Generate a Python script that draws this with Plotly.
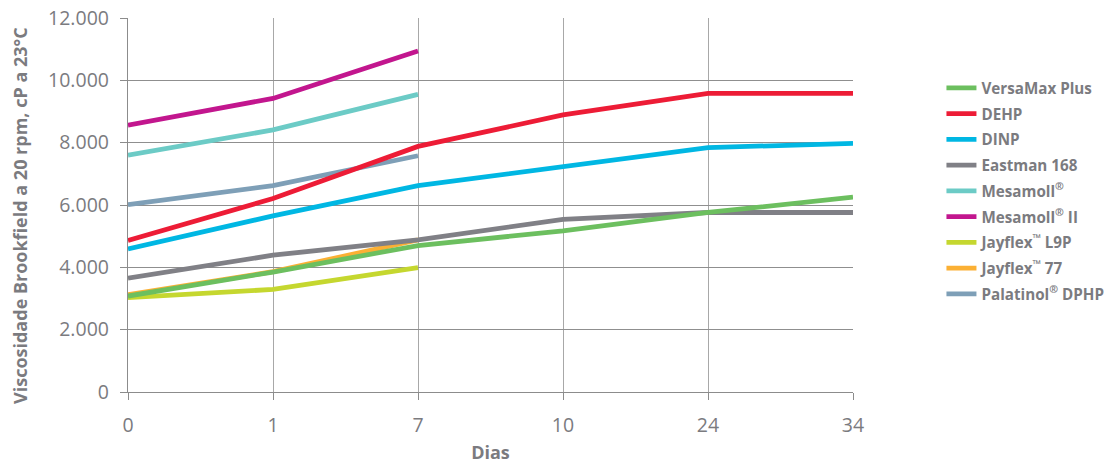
import plotly.graph_objects as go

days = ["0", "1", "7", "10", "24", "34"]

versamax_plus = [3080, 3850, 4700, 5170, 5760, 6250]
dehp = [4860, 6210, 7880, 8890, 9580, 9580]
dinp = [4590, 5650, 6620, 7220, 7840, 7980]
eastman_168 = [3650, 4390, 4880, 5540, 5760, 5760]
mesamoll = [7600, 8410, 9550]
mesamoll_ii = [8560, 9420, 10940]
jayflex_l9p = [3030, 3290, 3990]
jayflex_77 = [3120, 3860, 4880]
palatinol_dphp = [6010, 6620, 7580]

series_names = ["VersaMax Plus", "DEHP", "DINP", "Eastman 168", "Mesamoll<sup>®</sup>",
                "Mesamoll<sup>®</sup> II", "Jayflex<sup>™</sup> L9P", "Jayflex<sup>™</sup> 77",
                "Palatinol<sup>®</sup> DPHP"]
series_values = [versamax_plus, dehp, dinp, eastman_168, mesamoll, mesamoll_ii,
                 jayflex_l9p, jayflex_77, palatinol_dphp]
colors = ["#6cbf5f", "#ed1c36", "#00b7e3", "#808086", "#6ccbc6", "#c2168e",
          "#c5d72f", "#fbb034", "#7e9fb7"]

y_tickvals = [0, 2000, 4000, 6000, 8000, 10000, 12000]
y_ticktext = ["0", "2.000", "4.000", "6.000", "8.000", "10.000", "12.000"]
y_title = "Viscosidade Brookfield a 20 rpm, cP a 23°C"
x_title = "Dias"

fig = go.Figure()
items = list(enumerate(zip(series_names, series_values, colors)))
for rank, (name, vals, col) in reversed(items):
    fig.add_trace(go.Scatter(
        x=days[:len(vals)], y=vals, name=name, mode="lines",
        line=dict(color=col, width=4.8), legendgroup=name, legendrank=rank + 1,
    ))

gray_text = "#7b7b7f"
fig.update_layout(
    width=1112, height=464,
    margin=dict(l=128, r=259, t=18, b=72, autoexpand=False),
    paper_bgcolor="white", plot_bgcolor="white",
    font=dict(family="Open Sans", color=gray_text, size=18),
    showlegend=True,
    legend=dict(
        x=1.122, y=0.857, xanchor="left", yanchor="top",
        traceorder="grouped", tracegroupgap=3,
        font=dict(size=15.2, color=gray_text, family="Open Sans", weight="bold"),
        itemwidth=30, bgcolor="rgba(0,0,0,0)",
    ),
    xaxis=dict(
        type="category", categoryorder="array", categoryarray=days,
        range=[0, 5], showgrid=True, gridcolor="#a8a8a8", gridwidth=1.3,
        showline=True, linecolor="#8c8c8c", linewidth=1.3,
        ticks="outside", ticklen=7, tickcolor="#8c8c8c", tickwidth=1.3,
        tickfont=dict(size=19.5, color=gray_text), ticklabelstandoff=8,
        title=dict(text="<b>" + x_title + "</b>", font=dict(size=18, color=gray_text), standoff=10),
        zeroline=False, fixedrange=True, automargin=False,
    ),
    yaxis=dict(
        range=[0, 12000], tickvals=y_tickvals, ticktext=y_ticktext,
        showgrid=True, gridcolor="#8f8f8f", gridwidth=1.3,
        showline=True, linecolor="#8c8c8c", linewidth=1.3,
        ticks="outside", ticklen=7, tickcolor="#8c8c8c", tickwidth=1.3,
        tickfont=dict(size=19.5, color=gray_text), ticklabelstandoff=7,
        ticklabeloverflow="allow",
        zeroline=False, fixedrange=True, automargin=False,
    ),
    annotations=[dict(
        text="<b>" + y_title + "</b>", textangle=-90, showarrow=False,
        xref="paper", yref="paper", x=(20 - 128) / 725, y=(392 - 216) / 374,
        xanchor="center", yanchor="middle",
        font=dict(size=18, color=gray_text, family="Open Sans"),
    )],
)

fig.write_html("out.html", config={"displayModeBar": False},
               post_script="document.body.style.margin='0';")
